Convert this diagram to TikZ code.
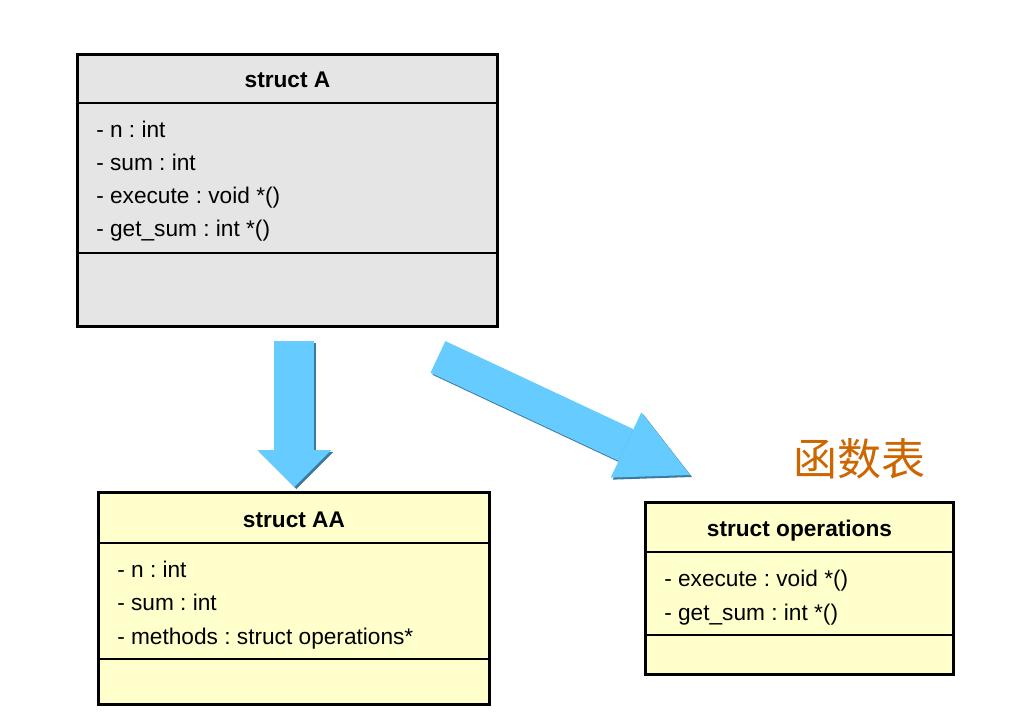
\documentclass[tikz,border=0pt]{standalone}
\usepackage{fontspec}
\setmainfont{Liberation Sans}
\newfontfamily\cjkfont{Noto Sans CJK SC}
\usetikzlibrary{positioning,calc,arrows.meta}
\definecolor{classgray}{RGB}{229,229,229}
\definecolor{classyellow}{RGB}{255,255,204}
\definecolor{arrowblue}{RGB}{102,204,255}
\definecolor{arrowshade}{RGB}{58,122,158}
\definecolor{labelorange}{RGB}{204,102,0}
\frenchspacing

\begin{document}
\begin{tikzpicture}[x=0.75pt, y=-0.75pt,
    classbox/.style={draw, line width=2.2pt, anchor=north west, inner sep=0pt},
    sepline/.style={line width=1.3pt},
    classtitle/.style={anchor=base, inner sep=0pt, font=\fontsize{17}{20}\selectfont\bfseries},
    member/.style={anchor=base west, inner sep=0pt, font=\fontsize{17}{20}\selectfont}]
    \useasboundingbox (0,0) rectangle (1016,716);

    % struct A
    \node[classbox, fill=classgray, minimum width=315pt, minimum height=204pt] (A) at (76,53) {};
    \draw[sepline] ($(A.north west)+(0,50)$) -- ($(A.north east)+(0,50)$);
    \draw[sepline] ($(A.north west)+(0,200)$) -- ($(A.north east)+(0,200)$);
    \node[classtitle] (Atitle) at ($(A.north)+(0,35)$) {struct A};
    \node[member] (An) at ($(A.north west)+(20,85)$) {- n : int};
    \node[member] (Asum) at ($(A.north west)+(20,118)$) {- sum : int};
    \node[member] (Aexec) at ($(A.north west)+(20,151)$) {- execute : void *()};
    \node[member] (Aget) at ($(A.north west)+(20,184)$) {- get\_sum : int *()};

    % struct AA
    \node[classbox, fill=classyellow, minimum width=293.25pt, minimum height=159pt] (AA) at (97,491) {};
    \draw[sepline] ($(AA.north west)+(0,52)$) -- ($(AA.north east)+(0,52)$);
    \draw[sepline] ($(AA.north west)+(0,168)$) -- ($(AA.north east)+(0,168)$);
    \node[classtitle] (AAtitle) at ($(AA.north)+(0,36)$) {struct AA};
    \node[member] (AAn) at ($(AA.north west)+(20,86)$) {- n : int};
    \node[member] (AAsum) at ($(AA.north west)+(20,119)$) {- sum : int};
    \node[member] (AAmeth) at ($(AA.north west)+(20,153)$) {- methods : struct operations*};

    % struct operations
    \node[classbox, fill=classyellow, minimum width=231pt, minimum height=129pt] (ops) at (644,501) {};
    \draw[sepline] ($(ops.north west)+(0,51)$) -- ($(ops.north east)+(0,51)$);
    \draw[sepline] ($(ops.north west)+(0,134)$) -- ($(ops.north east)+(0,134)$);
    \node[classtitle] (opstitle) at ($(ops.north)+(0,35)$) {struct operations};
    \node[member] (opsexec) at ($(ops.north west)+(20,85)$) {- execute : void *()};
    \node[member] (opsget) at ($(ops.north west)+(20,119)$) {- get\_sum : int *()};

    % function table label
    \node[text=labelorange, font=\cjkfont\fontsize{33}{36}\selectfont, inner sep=0pt,
        above left=16pt and 22pt of ops.north east] (table) {函数表};

    % block arrows with shade
    \draw[line width=30pt, arrowshade, transform canvas={shift={(1.5pt,-1.5pt)}},
        -{Triangle[length=27.75pt, width=55.5pt, line width=0pt]}]
        ($(A.south)+(7,13)$) -- ($(AA.north)+(0.5,-4)$);
    \draw[line width=30pt, arrowblue,
        -{Triangle[length=27.75pt, width=55.5pt, line width=0pt]}]
        ($(A.south)+(7,13)$) -- ($(AA.north)+(0.5,-4)$);
    \draw[line width=26.25pt, arrowshade, transform canvas={shift={(1.5pt,-1.5pt)}},
        -{Triangle[length=53pt, width=54pt, line width=0pt]}]
        ($(A.south east)+(-61,29)$) -- ($(ops.north west)+(46,-26)$);
    \draw[line width=26.25pt, arrowblue,
        -{Triangle[length=53pt, width=54pt, line width=0pt]}]
        ($(A.south east)+(-61,29)$) -- ($(ops.north west)+(46,-26)$);
\end{tikzpicture}
\end{document}
